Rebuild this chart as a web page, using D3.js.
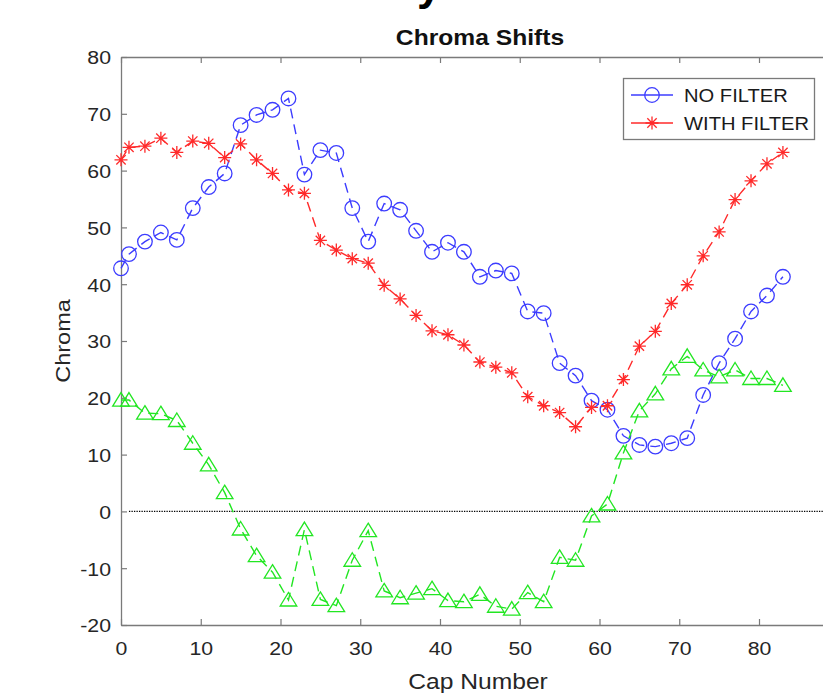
<!DOCTYPE html>
<html>
<head>
<meta charset="utf-8">
<script src="https://cdn.jsdelivr.net/npm/d3@7"></script>
<style>
  html, body { margin: 0; padding: 0; background: #fff; overflow: hidden; }
  svg { display: block; }
  text { font-family: "Liberation Sans", Arial, sans-serif; }
</style>
</head>
<body>
<script>
// ---------------- data ----------------
const capNumbers = [0,1,3,5,7,9,11,13,15,17,19,21,23,25,27,29,31,33,35,37,39,41,43,45,47,49,51,53,55,57,59,61,63,65,67,69,71,73,75,77,79,81,83];
const noFilter = [42.8,45.3,47.5,49.1,47.8,53.4,57.1,59.5,68.0,69.8,70.7,72.7,59.3,63.6,63.1,53.4,47.5,54.2,53.1,49.4,45.7,47.3,45.7,41.3,42.4,41.9,35.2,34.9,26.1,23.9,19.5,17.9,13.3,11.7,11.4,12.0,12.9,20.5,26.1,30.4,35.2,38.0,41.3];
const withFilter = [61.9,64.1,64.3,65.7,63.2,65.2,64.8,62.3,64.7,61.9,59.5,56.6,56.0,47.7,46.0,44.5,43.7,39.8,37.4,34.5,31.8,31.1,29.3,26.3,25.4,24.4,20.2,18.6,17.4,14.9,18.3,18.6,23.2,29.1,31.7,36.6,39.9,45.0,49.2,54.9,58.2,61.2,63.2];
const difference = [19.6,19.6,17.3,17.2,16.0,12.0,8.2,3.3,-3.1,-7.8,-10.7,-15.6,-3.2,-15.5,-16.6,-8.6,-3.4,-14.0,-15.2,-14.4,-13.6,-15.7,-15.9,-14.6,-16.7,-17.2,-14.3,-15.9,-8.1,-8.6,-0.8,1.3,10.3,17.7,20.7,25.1,27.3,24.9,23.7,24.9,23.4,23.4,22.2];
const xTicks = [0,10,20,30,40,50,60,70,80];
const yTicks = [-20,-10,0,10,20,30,40,50,60,70,80];
const legendLabels = ["NO FILTER", "WITH FILTER"];
const chartTitle = "Chroma Shifts";
const xLabel = "Cap Number";
const yLabel = "Chroma";

// ---------------- layout ----------------
const W = 823, H = 693;
const M = { left: 121, top: 57, bottom: 625 };
const SX = 1.12; // horizontal text stretch
const frameColor = "#7a7a7a";
const blue = "#3c3cff", red = "#ff2a2a", green = "#22e622";

const svg = d3.select("body").append("svg").attr("width", W).attr("height", H);

const x = d3.scaleLinear().domain([0, 90]).range([M.left, M.left + 90 * 7.975]);
const y = d3.scaleLinear().domain([-20, 80]).range([M.bottom, M.top]);

function stretchText(sel, s) {
  sel.each(function () {
    const t = d3.select(this);
    const tx = +t.attr("x") || 0;
    t.attr("x", 0).attr("transform", `translate(${tx},0) scale(${s},1)`);
  });
}

// partial big title glyph at top (cut off)
svg.append("text").attr("x", 417).attr("y", 0)
  .attr("font-size", 44).attr("font-weight", "bold").attr("fill", "#000").text("y");

// plot background
svg.append("rect").attr("x", M.left).attr("y", M.top)
  .attr("width", x(90) - M.left).attr("height", M.bottom - M.top).attr("fill", "#fff");

// zero dotted line
svg.append("line").attr("x1", x(1)).attr("x2", x(90)).attr("y1", y(0)).attr("y2", y(0))
  .attr("stroke", "#000").attr("stroke-width", 1.3).attr("stroke-dasharray", "1.3,1.2");

// axes
const fmt = d => String(d);
const gx = svg.append("g").attr("transform", `translate(0,${M.bottom})`)
  .call(d3.axisBottom(x).tickValues(xTicks).tickFormat(fmt).tickSizeInner(-6).tickSizeOuter(0).tickPadding(17));
const gxTop = svg.append("g").attr("transform", `translate(0,${M.top})`)
  .call(d3.axisTop(x).tickValues(xTicks).tickFormat("").tickSizeInner(-6).tickSizeOuter(0));
const gy = svg.append("g").attr("transform", `translate(${M.left},0)`)
  .call(d3.axisLeft(y).tickValues(yTicks).tickFormat(fmt).tickSizeInner(-6).tickSizeOuter(0).tickPadding(10));

[gx, gxTop, gy].forEach(g => {
  g.select(".domain").attr("stroke", frameColor).attr("stroke-width", 1.3);
  g.selectAll(".tick line").attr("stroke", frameColor).attr("stroke-width", 1.2);
  g.selectAll(".tick text").attr("fill", "#262626").attr("font-size", 19)
    .attr("font-family", "Liberation Sans, Arial, sans-serif");
});
gx.selectAll(".tick text").attr("dy", "0.71em");
gy.selectAll(".tick text").attr("dy", "0.36em");
stretchText(gx.selectAll(".tick text"), SX);
stretchText(gy.selectAll(".tick text"), SX);

// title and labels
svg.append("text").attr("transform", `translate(480,45) scale(${SX},1)`)
  .attr("text-anchor", "middle").attr("font-size", 22).attr("font-weight", "bold")
  .attr("fill", "#111").text(chartTitle);
svg.append("text").attr("transform", `translate(478,689) scale(${SX},1)`)
  .attr("text-anchor", "middle").attr("font-size", 22).attr("fill", "#262626").text(xLabel);
svg.append("text").attr("transform", `translate(70,341) rotate(-90) scale(${SX},1)`)
  .attr("text-anchor", "middle").attr("font-size", 21).attr("fill", "#262626").text(yLabel);

// series
const series = [
  { vals: noFilter, color: blue, marker: "circle" },
  { vals: withFilter, color: red, marker: "star" },
  { vals: difference, color: green, marker: "tri" }
];

const line = d3.line().x(d => x(d[0])).y(d => y(d[1]));

function drawMarker(g, type, color) {
  if (type === "circle") {
    g.append("circle").attr("r", 7.3).attr("fill", "none").attr("stroke", color).attr("stroke-width", 1.3);
  } else if (type === "star") {
    const r = 6.5, d = r * 0.72;
    const p = `M${-r},0L${r},0M0,${-r}L0,${r}M${-d},${-d}L${d},${d}M${-d},${d}L${d},${-d}`;
    g.append("path").attr("d", p).attr("fill", "none").attr("stroke", color).attr("stroke-width", 1.3);
  } else {
    g.append("path").attr("d", "M0,-7.5L8.3,6L-8.3,6Z").attr("fill", "none")
      .attr("stroke", color).attr("stroke-width", 1.3);
  }
}

series.forEach(s => {
  const pts = capNumbers.map((c, i) => [c, s.vals[i]]);
  svg.append("path").datum(pts).attr("d", line).attr("fill", "none")
    .attr("stroke", s.color).attr("stroke-width", 1.4).attr("stroke-dasharray", "10,6");
  pts.forEach(p => {
    const g = svg.append("g").attr("transform", `translate(${x(p[0])},${y(p[1])})`);
    drawMarker(g, s.marker, s.color);
  });
});

// legend
const lg = svg.append("g");
lg.append("rect").attr("x", 623.5).attr("y", 78.5).attr("width", 191).attr("height", 61)
  .attr("fill", "#fff").attr("stroke", frameColor).attr("stroke-width", 1.3);
const legendItems = [
  { label: legendLabels[0], color: blue, marker: "circle", y: 95 },
  { label: legendLabels[1], color: red, marker: "star", y: 123 }
];
legendItems.forEach(it => {
  lg.append("line").attr("x1", 631).attr("x2", 673).attr("y1", it.y).attr("y2", it.y)
    .attr("stroke", it.color).attr("stroke-width", 1.3);
  const g = lg.append("g").attr("transform", `translate(652,${it.y})`);
  drawMarker(g, it.marker, it.color);
  lg.append("text").attr("transform", `translate(684,${it.y + 6.5}) scale(${SX},1)`)
    .attr("font-size", 18).attr("fill", "#1a1a1a").text(it.label);
});
</script>
</body>
</html>
